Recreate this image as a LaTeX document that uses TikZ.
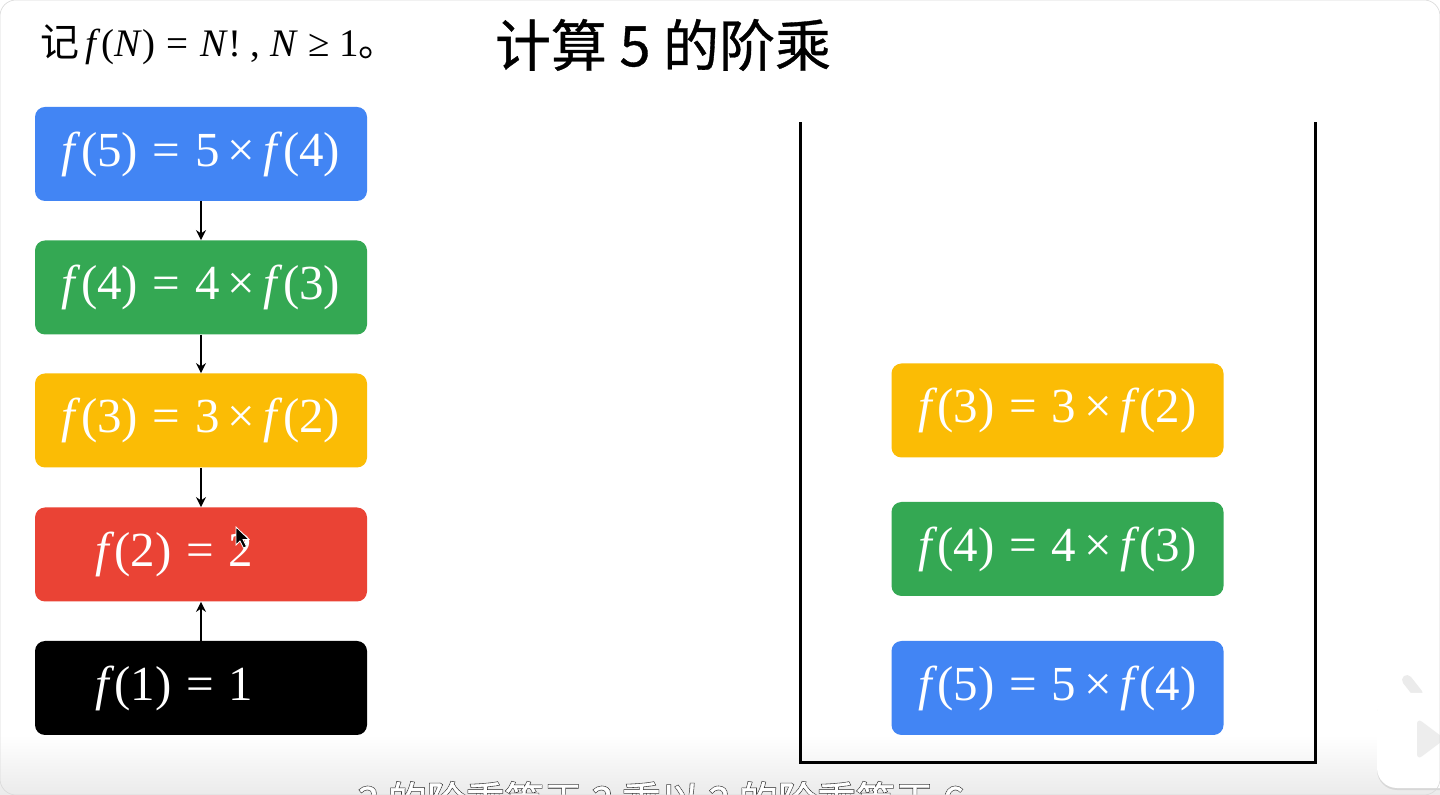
\documentclass[tikz,border=0pt]{standalone}
\usepackage{fontspec}
\setmainfont{Liberation Serif}
\newfontfamily\cjk{Noto Sans CJK SC}
\newfontfamily\cjktitle[FakeBold=0.6]{Noto Sans CJK SC}
\newfontfamily\cjkbold[FakeBold=4]{Noto Sans CJK SC}
\newfontfamily\cjkwhite[FakeBold=1]{Noto Sans CJK SC}
\usetikzlibrary{arrows.meta,shadows}
\definecolor{gblue}{HTML}{4285F4}
\definecolor{ggreen}{HTML}{34A853}
\definecolor{gyellow}{HTML}{FBBC05}
\definecolor{gred}{HTML}{EA4335}
\newcommand{\myf}{\textit{f}}
\newcommand{\myeq}{\hspace{0.3em}=\hspace{0.3em}}
\begin{document}
\begin{tikzpicture}[x=0.5pt,y=-0.5pt,
  box/.style={rounded corners=5pt, minimum width=166pt, minimum height=47pt,
    inner sep=0pt, text=white, font=\fontsize{24.5}{27}\selectfont},
  lbox/.style={box, align=left, text width=106pt, inner xsep=30pt},
  arr/.style={line width=1pt, -{Stealth[length=5pt,width=5pt]}},
  wall/.style={line width=1.5pt, line cap=rect}]
\useasboundingbox (0,0) rectangle (1440,795);
\clip (0,0) rectangle (1440,795);
\fill[white] (0,0) rectangle (1440,795);
\shade[top color=white, bottom color=black!8] (0,735) rectangle (1440,795);

% heading texts
\node[anchor=west, inner sep=0pt, font=\fontsize{19.5}{22}\selectfont] (def) at (40,45)
  {{\cjk 记}\,\myf(\textit{N})\myeq\textit{N}! , \textit{N} ≥ 1{\cjk 。}};
\node[inner sep=0pt, font=\cjktitle\fontsize{28}{30}\selectfont] (title) at (663,45) {计算 5 的阶乘};

% left column
\node[box, fill=gblue]  (l5) at (201,154) {\myf(5)\myeq5\,×\,\myf(4)};
\node[box, fill=ggreen] (l4) at (201,287.5) {\myf(4)\myeq4\,×\,\myf(3)};
\node[box, fill=gyellow] (l3) at (201,420.5) {\myf(3)\myeq3\,×\,\myf(2)};
\node[lbox, fill=gred]  (l2) at (201,554.5) {\myf(2)\myeq2};
\node[lbox, fill=black] (l1) at (201,688) {\myf(1)\myeq1};
\draw[arr] (l5.south) -- (l4.north);
\draw[arr] (l4.south) -- (l3.north);
\draw[arr] (l3.south) -- (l2.north);
\draw[arr] (l1.north) -- (l2.south);

% cursor
\filldraw[fill=black, draw=white, line width=0.4pt]
  (236,527) -- (236,545) -- (240,541) -- (243.5,548) -- (246.5,546.5) -- (243,539.5) -- (249,539.5) -- cycle;

% stack
\draw[wall] (800,124) -- (800,763) -- (1315,763) -- (1315,124);
\node[box, fill=gyellow] (s3) at (1057.5,410.5) {\myf(3)\myeq3\,×\,\myf(2)};
\node[box, fill=ggreen]  (s4) at (1057.5,549) {\myf(4)\myeq4\,×\,\myf(3)};
\node[box, fill=gblue]   (s5) at (1057.5,688) {\myf(5)\myeq5\,×\,\myf(4)};

% subtitle (cut off by the frame, as in the reference)
\node[anchor=west, inner sep=0pt, text=black!85, font=\cjkbold\fontsize{19.5}{22}\selectfont] (subb) at (357,800)
  {3 的阶乘等于 3 乘以 2 的阶乘等于 6};
\node[anchor=west, inner sep=0pt, text=white, font=\cjkwhite\fontsize{19.5}{22}\selectfont] (subw) at (357,800)
  {3 的阶乘等于 3 乘以 2 的阶乘等于 6};

% app badge
\draw[line width=5pt, line cap=round, draw=black!8] (1407,680) -- (1418,694);
\fill[white, rounded corners=10pt, drop shadow={opacity=0.2, shadow xshift=0pt, shadow yshift=-1pt}]
  (1377,693) rectangle (1470,788);
\fill[black!7, rounded corners=3pt] (1417,718) -- (1445,739) -- (1417,760) -- cycle;

% window frame
\draw[black!15, line width=0.3pt, rounded corners=8pt] (0,0) rectangle (1440,795);
\end{tikzpicture}
\end{document}
